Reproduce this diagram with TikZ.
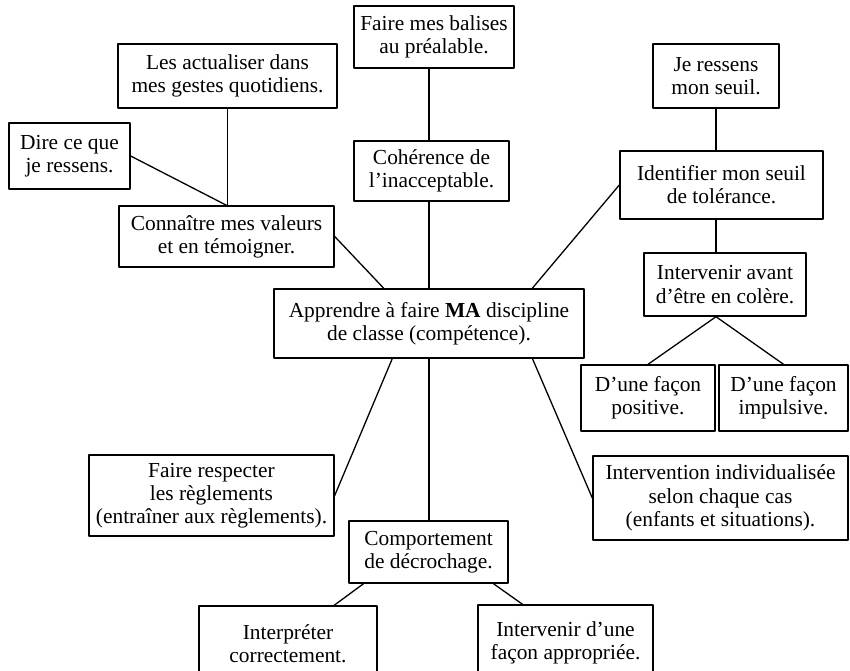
\documentclass[tikz,border=0pt]{standalone}
\usepackage{fontspec}
\setmainfont{Liberation Serif}
\begin{document}
\begin{tikzpicture}[x=0.5pt, y=-0.5pt, line join=round, line cap=round,
    font=\fontsize{10.7}{11.6}\selectfont,
    box/.style={draw, line width=0.7pt, align=center, inner sep=0pt},
    mainbox/.style={box, line width=1.2pt},
    link/.style={line width=0.65pt}]
    \useasboundingbox (0,0) rectangle (850,670);
    % boites
    \node[box, minimum width=109.5pt, minimum height=32pt] (gestes) at (227.5,76) {Les actualiser dans\\mes gestes quotidiens.};
    \node[box, minimum width=60.5pt, minimum height=33pt] (dire) at (69.5,156) {Dire ce que\\je ressens.};
    \node[box, minimum width=107.5pt, minimum height=30.5pt] (valeurs) at (226.5,236.5) {Conna\^itre mes valeurs\\et en t\'emoigner.};
    \node[mainbox, minimum width=155pt, minimum height=34.5pt] (centre) at (429,323.5) {Apprendre \`a faire \textbf{MA} discipline\\de classe (comp\'etence).};
    \node[box, minimum width=80pt, minimum height=31pt] (balises) at (434,37) {Faire mes balises\\au pr\'ealable.};
    \node[box, minimum width=77.5pt, minimum height=30pt] (coherence) at (431.5,171) {Coh\'erence de\\l'inacceptable.};
    \node[box, minimum width=63pt, minimum height=32pt] (ressens) at (716,76) {Je ressens\\mon seuil.};
    \node[box, minimum width=101.5pt, minimum height=34pt] (seuil) at (721.5,185) {Identifier mon seuil\\de tol\'erance.};
    \node[box, minimum width=81pt, minimum height=31.5pt] (avant) at (725,284.5) {Intervenir avant\\d'\^etre en col\`ere.};
    \node[box, minimum width=67pt, minimum height=33pt] (positive) at (648,398) {D'une fa\c{c}on\\positive.};
    \node[box, minimum width=64.5pt, minimum height=33pt] (impulsive) at (783.5,398) {D'une fa\c{c}on\\impulsive.};
    \node[box, minimum width=127.5pt, minimum height=42pt] (cas) at (720.5,498) {Intervention individualis\'ee\\selon chaque cas\\(enfants et situations).};
    \node[box, minimum width=122.5pt, minimum height=40.5pt] (regles) at (211.5,495.5) {Faire respecter\\les r\`eglements\\(entra\^iner aux r\`eglements).};
    \node[box, minimum width=79.5pt, minimum height=31pt] (decrochage) at (428.5,552) {Comportement\\de d\'ecrochage.};
    \node[box, minimum width=89pt, minimum height=38pt] (interpreter) at (288,644) {Interpr\'eter\\correctement.};
    \node[box, minimum width=87.5pt, minimum height=38pt] (approprie) at (565.5,643) {Intervenir d'une\\fa\c{c}on appropri\'ee.};
    % liens
    \draw[link] (gestes.south) -- (gestes.south |- valeurs.north);
    \draw[link] (dire.east) -- (valeurs.north);
    \draw[link] (valeurs.east) -- (centre.142);
    \draw[link] (centre.north |- balises.south) -- (centre.north |- coherence.north);
    \draw[link] (centre.north |- coherence.south) -- (centre.north);
    \draw[link] (centre.19.4) -- (seuil.west);
    \draw[link] (ressens.south) -- (ressens.south |- seuil.north);
    \draw[link] (ressens.south |- seuil.south) -- (ressens.south |- avant.north);
    \draw[link] (ressens.south |- avant.south) -- (positive.north)
                (ressens.south |- avant.south) -- (impulsive.north);
    \draw[link] (centre.-19.4) -- (cas.west);
    \draw[link] (centre.224) -- (regles.east);
    \draw[link] (centre.south) -- (centre.south |- decrochage.north);
    \draw[link] (decrochage.206) -- (interpreter.40);
    \draw[link] (decrochage.-26) -- (approprie.138);
\end{tikzpicture}
\end{document}
